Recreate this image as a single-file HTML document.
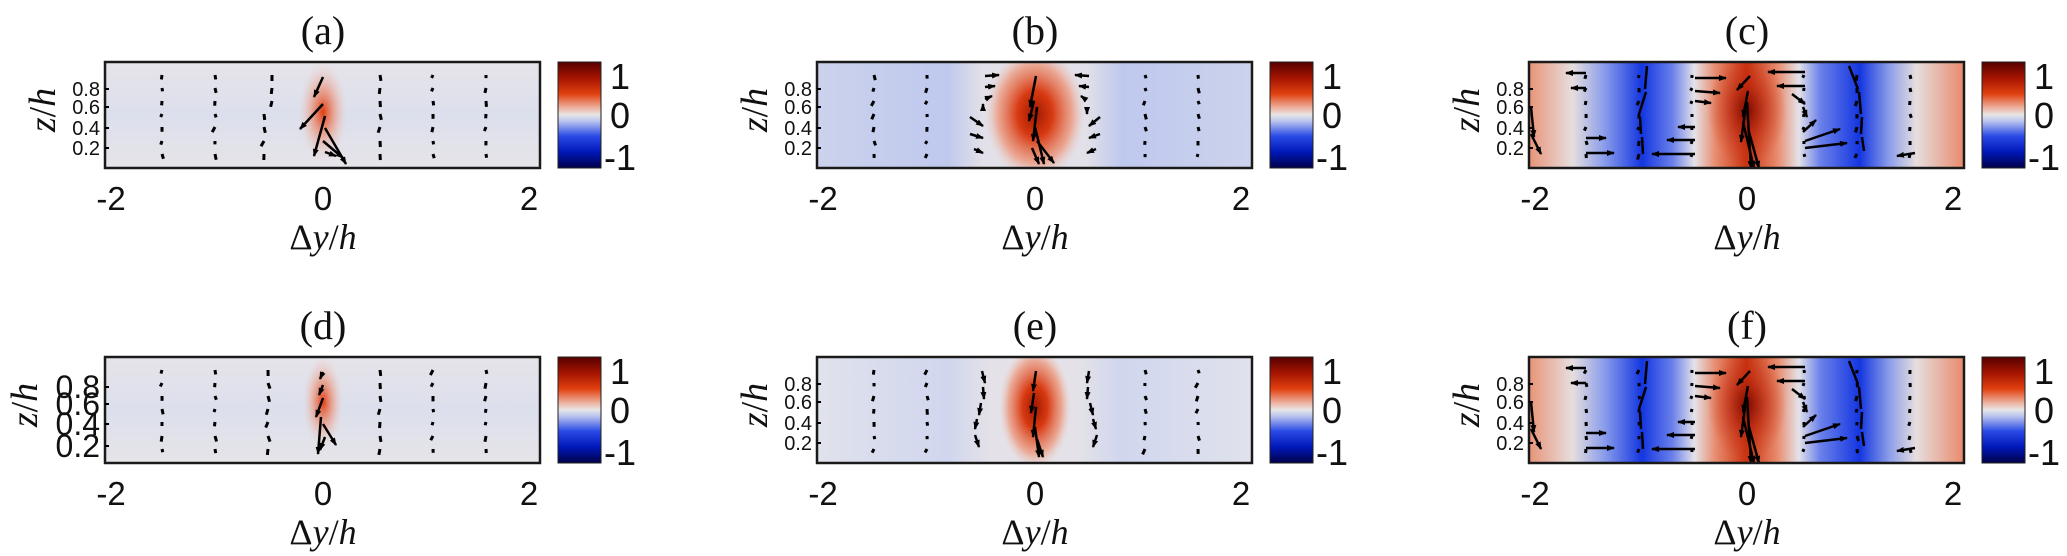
<!DOCTYPE html>
<html><head><meta charset="utf-8"><style>
html,body{margin:0;padding:0;background:#fff;}
svg{display:block}
</style></head><body>
<svg id="s" width="2067" height="556" xmlns="http://www.w3.org/2000/svg">
<defs id="defs">
<linearGradient id="cb" x1="0" y1="0" x2="0" y2="1">
<stop offset="0" stop-color="#560000"/><stop offset="0.15" stop-color="#a41400"/>
<stop offset="0.3" stop-color="#e0400f"/><stop offset="0.44" stop-color="#eeb8a8"/>
<stop offset="0.5" stop-color="#e6e6e6"/><stop offset="0.56" stop-color="#b8c2ee"/>
<stop offset="0.7" stop-color="#2a4ae6"/><stop offset="0.85" stop-color="#0018b8"/>
<stop offset="1" stop-color="#000048"/></linearGradient>
<linearGradient id="gc" x1="0" y1="0" x2="1" y2="0">
<stop offset="0" stop-color="#e89478"/><stop offset="0.1" stop-color="#e6dede"/>
<stop offset="0.17" stop-color="#8ea0ea"/><stop offset="0.26" stop-color="#1436e0"/>
<stop offset="0.33" stop-color="#6a80ea"/><stop offset="0.38" stop-color="#e4e2e8"/>
<stop offset="0.43" stop-color="#e88a6c"/><stop offset="0.5" stop-color="#c83210"/>
<stop offset="0.57" stop-color="#e88a6c"/><stop offset="0.62" stop-color="#e4e2e8"/>
<stop offset="0.67" stop-color="#6a80ea"/><stop offset="0.76" stop-color="#1436e0"/>
<stop offset="0.83" stop-color="#8ea0ea"/><stop offset="0.89" stop-color="#e6dede"/>
<stop offset="1" stop-color="#e88a6c"/></linearGradient>
<linearGradient id="gb" x1="0" y1="0" x2="1" y2="0">
<stop offset="0" stop-color="#ccd2ec"/><stop offset="0.3" stop-color="#bfc9ee"/>
<stop offset="0.38" stop-color="#e2e0e8"/><stop offset="0.62" stop-color="#e2e0e8"/>
<stop offset="0.7" stop-color="#bfc9ee"/><stop offset="1" stop-color="#ccd2ec"/></linearGradient>
<linearGradient id="ge" x1="0" y1="0" x2="1" y2="0">
<stop offset="0" stop-color="#e0e2ec"/><stop offset="0.3" stop-color="#d0d6ee"/>
<stop offset="0.4" stop-color="#e4e2e8"/><stop offset="0.6" stop-color="#e4e2e8"/>
<stop offset="0.7" stop-color="#d0d6ee"/><stop offset="1" stop-color="#e0e2ec"/></linearGradient>
<linearGradient id="ga" x1="0" y1="0" x2="0" y2="1">
<stop offset="0" stop-color="#e6e4ea"/><stop offset="0.5" stop-color="#dcdfec"/><stop offset="1" stop-color="#e6e4e8"/></linearGradient>
<radialGradient id="rc"><stop offset="0" stop-color="#7a0a00" stop-opacity="0.95"/><stop offset="0.5" stop-color="#b82008" stop-opacity="0.5"/><stop offset="1" stop-color="#c83210" stop-opacity="0"/></radialGradient>
<radialGradient id="rb"><stop offset="0" stop-color="#a01800"/><stop offset="0.35" stop-color="#d83a12"/><stop offset="0.75" stop-color="#ec9a80" stop-opacity="0.8"/><stop offset="1" stop-color="#eec8c0" stop-opacity="0"/></radialGradient>
<radialGradient id="ra"><stop offset="0" stop-color="#e03c10"/><stop offset="0.5" stop-color="#ec8c70" stop-opacity="0.6"/><stop offset="1" stop-color="#eec8c0" stop-opacity="0"/></radialGradient>
<marker id="ah" markerWidth="8" markerHeight="6" refX="7" refY="3" orient="auto" markerUnits="userSpaceOnUse"><path d="M0,0 L8,3 L0,6 z" fill="#000"/></marker>
</defs>
<g id="g"></g>
</svg>
<script>
var NS="http://www.w3.org/2000/svg",G=document.getElementById('g'),D=document.getElementById('defs');
function el(t,a,p){var e=document.createElementNS(NS,t);for(var k in a)e.setAttribute(k,a[k]);(p||G).appendChild(e);return e;}
function tx(x,y,s,a,p){var e=el('text',a,p);e.innerHTML=s;e.setAttribute('x',x);e.setAttribute('y',y);return e;}
var seed=7;function rnd(){seed=(seed*9301+49297)%233280;return seed/233280;}
var panels=[
{bx:105,by:62,t:'a',l:'(a)'},{bx:817,by:62,t:'b',l:'(b)'},{bx:1529,by:62,t:'c',l:'(c)'},
{bx:105,by:357,t:'d',l:'(d)'},{bx:817,by:357,t:'e',l:'(e)'},{bx:1529,by:357,t:'c',l:'(f)'}];
var A={
a:[[218,15,209,35],[218,42,195,67],[220,54,209,94],[220,66,241,102],[218,79,238,96],[220,90,231,94]],
d:[[218,15,215,22],[218,28,214,38],[218,41,211,60],[216,60,213,97],[218,67,231,88],[220,80,215,93]],
b:[[219,14,213,45],[217,39,212,59],[220,45,216,79],[218,65,227,102],[220,79,237,101],[215,86,222,102],
[168,14,182,13],[168,25,178,24],[168,37,175,34],[166,47,166,42],[153,55,166,64],[153,72,166,76],[157,87,166,91],
[272,14,258,13],[272,25,262,24],[268,37,264,34],[270,47,270,52],[283,55,272,64],[283,72,272,76],[279,87,270,91]],
e:[[219,14,216,34],[217,36,214,56],[219,50,216,80],[218,70,222,100],[220,82,226,100],
[165,14,168,26],[166,30,167,42],[164,46,162,58],[160,62,158,72],[158,78,162,90],
[272,14,270,26],[271,30,270,42],[273,46,276,58],[276,62,279,72],[280,78,276,90]],
c:[[57,11,37,11],[57,26,42,26],[166,92,123,92],[166,78,138,78],[166,65,149,65],[57,91,85,91],[57,76,77,76],
[166,16,197,16],[166,29,191,31],[166,39,182,41],[276,10,239,10],[276,24,248,24],[276,86,318,81],[276,79,311,67],
[386,91,368,94],[221,14,208,28],[219,29,214,55],[218,40,222,106],[214,60,225,106],[220,70,230,106],[216,50,212,80],
[263,32,276,42],[274,45,278,55],[274,70,287,58],[2,45,5,75],[2,72,12,92]]};
panels.forEach(function(p,pi){
 var W=435,H=106,bx=p.bx,by=p.by;
 var cp=el('clipPath',{id:'cp'+pi},D);el('rect',{x:bx,y:by,width:W,height:H},cp);
 var g=el('g',{'clip-path':'url(#cp'+pi+')'});
 if(p.t=='c'){el('rect',{x:bx,y:by,width:W,height:H,fill:'url(#gc)'},g);
   el('ellipse',{cx:bx+218,cy:by+48,rx:40,ry:55,fill:'url(#rc)'},g);}
 else if(p.t=='b'||p.t=='e'){el('rect',{x:bx,y:by,width:W,height:H,fill:'url(#g'+p.t+')'},g);
   if(p.t=='b')el('ellipse',{cx:bx+218,cy:by+52,rx:50,ry:66,fill:'url(#rb)'},g);
   else el('ellipse',{cx:bx+218,cy:by+50,rx:36,ry:62,fill:'url(#rb)'},g);}
 else {el('rect',{x:bx,y:by,width:W,height:H,fill:'url(#ga)'},g);
   el('ellipse',{cx:bx+218,cy:by+(p.t=='a'?50:45),rx:p.t=='a'?24:20,ry:p.t=='a'?50:46,fill:'url(#ra)'},g);}
 var cols=[57,110,163,275,328,381],rows=[13,26,39,52,65,79,92];
 cols.forEach(function(cx,ci){rows.forEach(function(ry){
   var L=(ci==2||ci==3)?(p.t=='c'?3:6):3+rnd()*3; if(p.t=='c'&&(ci==0||ci==5))L=4;
   var ang=1.2+rnd()*0.9; if(p.t=='b'||p.t=='e'){if(ci==2||ci==3)return;}
   var x=bx+cx+(ci==2&&p.t=='a'?(ry<45?4:-4):0),y=by+ry;
   el('line',{x1:x,y1:y,x2:x+Math.cos(ang)*L,y2:y+Math.sin(ang)*L,stroke:'#000','stroke-width':3},g);
 });});
 if(p.t=='c'){[[[118,4],[117,30],[111,55],[113,75],[115,95]],[[320,4],[330,30],[333,55],[333,75],[336,92]]].forEach(function(pts){
   for(var i=0;i<pts.length-1;i++)el('line',{x1:bx+pts[i][0],y1:by+pts[i][1],x2:bx+pts[i+1][0]-1,y2:by+pts[i+1][1]-3,stroke:'#000','stroke-width':2.5},g);});}
 (A[p.t]||[]).forEach(function(a){el('line',{x1:bx+a[0],y1:by+a[1],x2:bx+a[2],y2:by+a[3],stroke:'#000','stroke-width':2.5,'marker-end':'url(#ah)'},g);});
 el('rect',{x:bx,y:by,width:W,height:H,fill:'none',stroke:'#1a1a1a','stroke-width':2.5});
 var cx0=bx+453; el('rect',{x:cx0,y:by,width:43,height:H,fill:'url(#cb)',stroke:'#222','stroke-width':1});
 var f={'font-family':'Liberation Sans, sans-serif','font-size':'36px',fill:'#111'};
 tx(cx0+52,by+27,'1',f);tx(cx0+52,by+66,'0',f);tx(cx0+46,by+108,'-1',f);
 tx(bx+218,by-18,p.l,{'font-family':'Liberation Serif, serif','font-size':'40px','text-anchor':'middle',fill:'#111'});
 var ft={'font-family':'Liberation Sans, sans-serif','font-size':'33px','text-anchor':'middle',fill:'#111'};
 tx(bx+6,by+148,'-2',ft);tx(bx+218,by+148,'0',ft);tx(bx+424,by+148,'2',ft);
 tx(bx+218,by+187,'Δ<tspan font-style="italic">y</tspan>/<tspan font-style="italic">h</tspan>',{'font-family':'Liberation Serif, serif','font-size':'36px','text-anchor':'middle',fill:'#111'});
 var big=p.t=='d'; var fy={'font-family':'Liberation Sans, sans-serif','font-size':big?'32px':'20px','text-anchor':'end',fill:'#111'};
 var ys=big?[30,47,67,89]:[27,45,66,86], lab=['0.8','0.6','0.4','0.2'];
 ys.forEach(function(y,i){tx(bx-5,by+y+(big?11:7),lab[i],fy);el('line',{x1:bx,y1:by+y,x2:bx+4,y2:by+y,stroke:'#000','stroke-width':2});});
 var zx=big?bx-80:bx-62;
 tx(0,0,'<tspan font-style="italic">z</tspan>/<tspan font-style="italic">h</tspan>',{'font-family':'Liberation Serif, serif','font-size':'38px','text-anchor':'middle',fill:'#111',transform:'translate('+(zx+12)+','+(by+48)+') rotate(-90)'});
});
</script>
</body></html>
